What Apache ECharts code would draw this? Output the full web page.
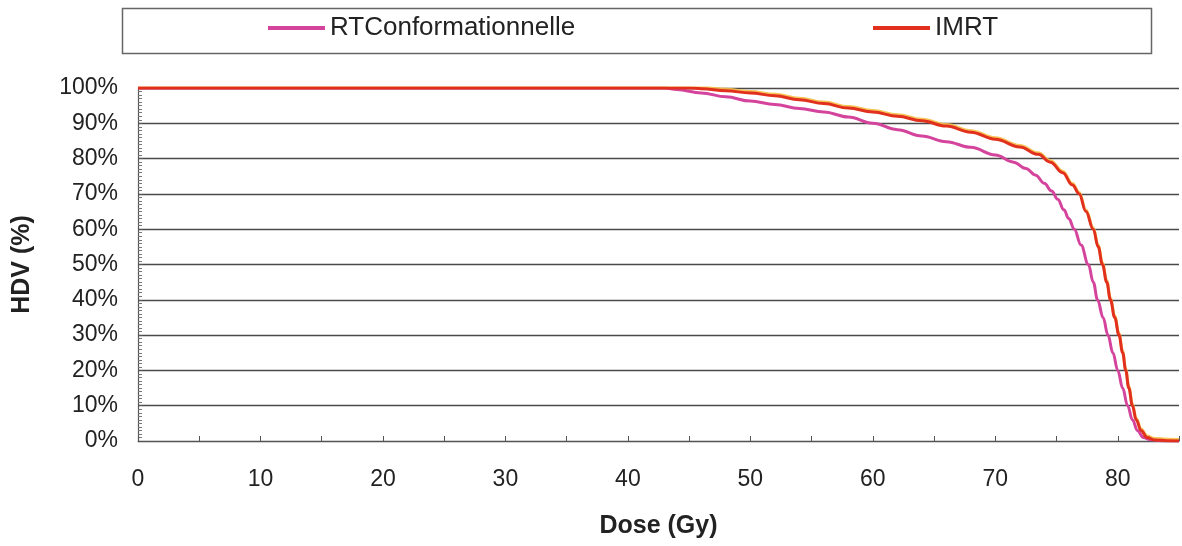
<!DOCTYPE html>
<html>
<head>
<meta charset="utf-8">
<script src="https://cdn.jsdelivr.net/npm/echarts@6/dist/echarts.min.js"></script>
<style>html,body{margin:0;padding:0;background:#fff}#c{width:1182px;height:546px}</style>
</head>
<body>
<div id="c"></div>
<script>
const seriesNames = ['RTConformationnelle', 'IMRT'];
const doseRT = [0, 43, 44, 46, 48, 50, 52, 54, 56, 58, 60, 62, 64, 66, 68, 70, 71.5, 72.5, 73.3, 74, 74.6, 75.1, 75.6, 76.0, 76.45, 77, 77.6, 78, 78.35, 78.8, 79.2, 79.6, 80.0, 80.4, 80.8, 81.2, 81.6, 82.1, 82.6, 83.5, 85];
const hdvRT  = [100, 100, 99.6, 98.6, 97.5, 96.3, 95.3, 94.2, 93.2, 91.8, 90.0, 88.2, 86.4, 84.8, 83.2, 81.0, 79.0, 77.2, 75.3, 73, 70.8, 68.5, 65.5, 63, 60, 55.5, 50, 45, 40, 35, 30, 25, 20, 15, 10, 6, 3, 1, 0.4, 0.1, 0];
const doseIMRT = [0, 45, 46, 48, 50, 52, 54, 56, 58, 60, 62, 64, 66, 68, 70, 72, 73.5, 74.5, 75.5, 76.3, 76.85, 77.4, 78, 78.4, 78.75, 79.1, 79.4, 79.75, 80.1, 80.4, 80.65, 80.9, 81.2, 81.5, 81.9, 82.4, 83, 84, 85];
const hdvIMRT  = [100, 100, 99.8, 99.2, 98.6, 97.8, 96.7, 95.6, 94.3, 93.2, 92.0, 90.7, 89.2, 87.5, 85.5, 83.3, 81.2, 79, 76, 72.5, 70, 65, 60, 55, 50, 45, 40, 35, 30, 25, 20, 15, 10, 6, 3, 1, 0.3, 0.1, 0];
const xTickLabels = ['0','10','20','30','40','50','60','70','80'];
const yTickLabels = ['0%','10%','20%','30%','40%','50%','60%','70%','80%','90%','100%'];
const xTitle = 'Dose (Gy)';
const yTitle = 'HDV (%)';

const pair = (xs, ys) => xs.map((x, i) => [x, ys[i]]);
const font = '"Liberation Sans", Arial, sans-serif';

const chart = echarts.init(document.getElementById('c'), null, {renderer: 'canvas'});
chart.setOption({
  animation: false,
  backgroundColor: '#fff',
  graphic: [{
    type: 'rect', left: 120, top: 6, shape: {width: 1029, height: 45},
    style: {fill: 'none', stroke: '#666', lineWidth: 1.5}, silent: true
  }],
  legend: [{
    data: [seriesNames[0]], left: 268, top: 15, itemWidth: 57, itemHeight: 4, icon: 'rect',
    padding: 0, textStyle: {fontFamily: font, fontSize: 26, color: '#222', lineHeight: 26}
  }, {
    data: [seriesNames[1]], left: 873, top: 15, itemWidth: 57, itemHeight: 4, icon: 'rect',
    padding: 0, textStyle: {fontFamily: font, fontSize: 26, color: '#222', lineHeight: 26}
  }],
  grid: {left: 138, top: 88, width: 1045.5, height: 353, containLabel: false},
  xAxis: {
    type: 'value', min: 0, max: 85, interval: 10,
    name: xTitle, nameLocation: 'middle', nameGap: 73,
    nameTextStyle: {fontFamily: font, fontSize: 25, fontWeight: 'bold', color: '#222'},
    axisLine: {show: true, lineStyle: {color: '#555', width: 1.2}},
    axisTick: {show: true, inside: true, length: 5, lineStyle: {color: '#555'}},
    minorTick: {show: true, splitNumber: 2, length: 5, lineStyle: {color: '#555'}},
    splitLine: {show: false},
    axisLabel: {
      fontFamily: font, fontSize: 23, color: '#222', margin: 27,
      formatter: v => { const i = xTickLabels.indexOf(String(v)); return i >= 0 ? xTickLabels[i] : ''; }
    }
  },
  yAxis: {
    type: 'value', min: 0, max: 100, interval: 10,
    name: yTitle, nameLocation: 'middle', nameGap: 103, nameRotate: 90,
    nameTextStyle: {fontFamily: font, fontSize: 25, fontWeight: 'bold', color: '#222'},
    axisLine: {show: true, lineStyle: {color: '#555', width: 1.2}},
    axisTick: {show: true, inside: true, length: 5, lineStyle: {color: '#555'}},
    minorTick: {show: true, splitNumber: 10, length: 4, lineStyle: {color: '#777'}},
    splitLine: {show: true, lineStyle: {color: '#4a4a4a', width: 1.3}},
    axisLabel: {
      fontFamily: font, fontSize: 23, color: '#222', margin: 20,
      formatter: v => yTickLabels[Math.round(v / 10)]
    }
  },
  series: [{
    name: seriesNames[0], type: 'line', data: pair(doseRT, hdvRT),
    showSymbol: false, symbol: 'none', smooth: 0.4, smoothMonotone: 'x',
    color: '#d4449c', lineStyle: {color: '#d4449c', width: 3}, z: 2
  }, {
    name: seriesNames[1], type: 'line', data: pair(doseIMRT, hdvIMRT),
    showSymbol: false, symbol: 'none', smooth: 0.4, smoothMonotone: 'x',
    color: '#e2301e',
    lineStyle: {color: '#e2301e', width: 3, shadowColor: 'rgba(246,190,70,0.9)', shadowBlur: 0, shadowOffsetY: -1.5}, z: 3
  }]
});
</script>
</body>
</html>
